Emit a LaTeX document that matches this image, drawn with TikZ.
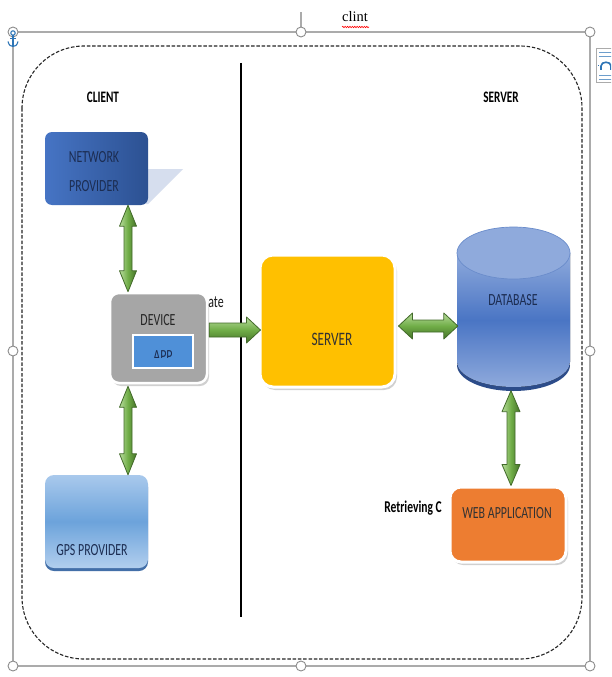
\documentclass[tikz,border=0pt]{standalone}
\usepackage{fontspec}
\setmainfont{Carlito}[FakeStretch=0.7]
\newfontfamily\titleserif{Liberation Serif}
\usetikzlibrary{calc,shadows,decorations.pathmorphing}

\definecolor{framegray}{HTML}{ABABAB}
\definecolor{handlegray}{HTML}{8C8C8C}
\definecolor{netlight}{HTML}{4674C4}
\definecolor{netdark}{HTML}{2C5192}
\definecolor{netshadow}{HTML}{D6DEEE}
\definecolor{navytext}{HTML}{1C2D52}
\definecolor{devgray}{HTML}{A6A6A6}
\definecolor{appblue}{HTML}{4F90D8}
\definecolor{srvyellow}{HTML}{FFC000}
\definecolor{webfill}{HTML}{ED7D31}
\definecolor{gpstop}{HTML}{A9C9EC}
\definecolor{gpsmid}{HTML}{6CA3DB}
\definecolor{gpsrim}{HTML}{2F609F}
\definecolor{dbtop}{HTML}{8FAADC}
\definecolor{dbmid}{HTML}{4A75C4}
\definecolor{dbrim}{HTML}{2C4C8A}
\definecolor{dbedge}{HTML}{6A8CCB}
\definecolor{arrowlight}{HTML}{B7DB9C}
\definecolor{arrowmid}{HTML}{70AD47}
\definecolor{arrowdark}{HTML}{457228}
\definecolor{arrowedge}{HTML}{426A2A}
\definecolor{anchorblue}{HTML}{2E75B6}

% double-headed block arrow: style, from, to, shaft half width, head half width, head length
\newcommand\greendouble[6]{%
  \coordinate (ba-h1) at ($(#2)!#6!(#3)$);
  \coordinate (ba-h2) at ($(#3)!#6!(#2)$);
  \path[#1] (#2) -- ($(ba-h1)!#5!-90:(#3)$) -- ($(ba-h1)!#4!-90:(#3)$)
    -- ($(ba-h2)!#4!90:(#2)$) -- ($(ba-h2)!#5!90:(#2)$) -- (#3)
    -- ($(ba-h2)!#5!-90:(#2)$) -- ($(ba-h2)!#4!-90:(#2)$)
    -- ($(ba-h1)!#4!90:(#3)$) -- ($(ba-h1)!#5!90:(#3)$) -- cycle;
}
% single-headed block arrow with a flat tail
\newcommand\greensingle[6]{%
  \coordinate (ba-h) at ($(#3)!#6!(#2)$);
  \path[#1] ($(#2)!#4!90:(#3)$) -- ($(ba-h)!#4!-90:(#2)$) -- ($(ba-h)!#5!-90:(#2)$)
    -- (#3) -- ($(ba-h)!#5!90:(#2)$) -- ($(ba-h)!#4!90:(#2)$)
    -- ($(#2)!#4!-90:(#3)$) -- cycle;
}

\tikzset{
  lbl/.style={font=\fontsize{17}{29}\selectfont, inner sep=0, align=center},
  hdr/.style={font=\bfseries\fontsize{16}{19}\selectfont, inner sep=0},
  handle/.style={fill=white, draw=handlegray, line width=0.9pt},
  softshadow/.style={drop shadow={shadow xshift=2pt, shadow yshift=-3pt, opacity=0.3, fill=black!60}},
  harrow/.style={top color=arrowlight, bottom color=arrowdark, middle color=arrowmid,
                 draw=arrowedge, line width=0.8pt, line join=round},
  varrow/.style={left color=arrowlight, right color=arrowdark, middle color=arrowmid,
                 draw=arrowedge, line width=0.8pt, line join=round},
}

\begin{document}
\begin{tikzpicture}[x=1pt,y=-1pt]
\useasboundingbox (0,0) rectangle (611,677);
\fill[white] (0,0) rectangle (611,677);

% selection frame of the drawing canvas
\draw[framegray, line width=1.3pt] (13,32) rectangle (590,666);
\draw[framegray, line width=1.3pt] (301,32) -- (301,12);
\foreach \hx/\hy in {13/32,301/32,590/32,13/351,590/351,13/666,301/666,590/666}
  \filldraw[handle] (\hx,\hy) circle[radius=5];

% caption with spell-check underline
\node[font=\titleserif\fontsize{14.5}{16}\selectfont, inner sep=0] (doctitle) at (355,17) {clint};
\draw[red, line width=0.6pt, decorate, decoration={snake, amplitude=0.7pt, segment length=2.4pt}]
  (342,27) -- (369,27);

% anchor marker over the top-left handle
\begin{scope}[anchorblue, line width=1.1pt]
  \draw (13,33) circle[radius=2.2];
  \draw (13,35.5) -- (13,46.5);
  \draw (10,38.5) -- (16,38.5);
  \draw (8,41.5) .. controls (9,45.5) and (11,46.5) .. (13,46.5) .. controls (15,46.5) and (17,45.5) .. (18,41.5);
\end{scope}

% layout-options button at the right edge
\begin{scope}
  \clip (592,40) rectangle (611,90);
  \filldraw[fill=white, draw=framegray, line width=0.8pt] (596,48) rectangle (622,82);
  \foreach \ly in {53,57,75,79} \draw[anchorblue!70, line width=1pt] (599,\ly) -- (618,\ly);
  \draw[anchorblue, line width=1.6pt] (601,70) -- (601,66) .. controls (601,61) and (611,61) .. (611,66) -- (611,70);
  \draw[anchorblue, line width=1pt] (598,66) -- (599,66) (613,66) -- (615,66);
\end{scope}

% dashed boundary and client/server divider
\draw[black!85, line width=1.1pt, dash pattern=on 3.5pt off 1.8pt, rounded corners=62pt]
  (22,46) rectangle (582,659);
\coordinate (divtop) at (241,63);
\coordinate (divbot) at (241,617);
\draw[line width=2pt] (divtop) -- (divbot);

\node[hdr] (clienthdr) at (103,97) {CLIENT};
\node[hdr] (serverhdr) at (501,97) {SERVER};

% network provider with its perspective shadow
\fill[netshadow] (146,169) -- (183,169) -- (148,204) -- (146,204) -- cycle;
\node[rounded corners=7pt, minimum width=103pt, minimum height=73pt, inner sep=0,
      left color=netlight, right color=netdark] (net) at (96.5,168.5) {};
\node[lbl, text=navytext] (nettext) at (94,171.5) {NETWORK\\PROVIDER};

% device with the app panel
\node[rounded corners=9pt, minimum width=97pt, minimum height=90pt, inner sep=0,
      fill=devgray, draw=white, line width=2.5pt, softshadow] (dev) at (158.5,338) {};
\node[lbl, text=black!85] (devtext) at (158,320) {DEVICE};
\node[minimum width=60pt, minimum height=32pt, inner sep=0, fill=appblue] (app) at (163,351.5) {};
\begin{scope}
  \clip (133,336) rectangle (193,357);
  \node[lbl, anchor=base, text=navytext] (apptext) at (163,361) {APP};
\end{scope}
\draw[white, line width=2pt] (app.north west) rectangle (app.south east);
\node[lbl, text=black!90] (ate) at (216,302) {ate};

% GPS provider
\node[rounded corners=9pt, minimum width=103pt, minimum height=93pt, inner sep=0,
      top color=gpstop, bottom color=gpstop!90!white, middle color=gpsmid,
      drop shadow={shadow xshift=0pt, shadow yshift=-3pt, opacity=0.9, fill=gpsrim}] (gps) at (96.5,521.5) {};
\node[lbl, text=navytext] (gpstext) at (92,550) {GPS PROVIDER};

% server
\node[rounded corners=13pt, minimum width=135pt, minimum height=132pt, inner sep=0,
      fill=srvyellow, draw=white, line width=3pt, softshadow] (srv) at (327.5,321) {};
\node[font=\fontsize{19}{22}\selectfont, inner sep=0, text=black!80] (srvtext) at (332,339) {SERVER};

% database cylinder
\node[minimum width=113pt, minimum height=161pt, inner sep=0] (db) at (513.5,308) {};
\fill[dbrim] (457,365) arc[start angle=180, end angle=0, x radius=56.5, y radius=26] -- cycle;
\fill[top color=dbtop, bottom color=dbtop, middle color=dbmid]
  (457,253) -- (457,362) arc[start angle=180, end angle=0, x radius=56.5, y radius=25]
  -- (570,253) -- cycle;
\filldraw[fill=dbtop, draw=dbedge, line width=0.7pt] (513.5,253) ellipse[x radius=56.5, y radius=26];
\node[lbl, text=navytext] (dbtext) at (513,300) {DATABASE};

% web application
\node[rounded corners=11pt, minimum width=116pt, minimum height=75pt, inner sep=0,
      fill=webfill, draw=white, line width=3pt, softshadow] (web) at (508,524.5) {};
\node[lbl, text=black!80] (webtext) at (507,513) {WEB APPLICATION};
\node[lbl, font=\bfseries\fontsize{16.5}{20}\selectfont, text=black] (retr) at (413,508) {Retrieving C};

% block arrows between the components
\coordinate (netdevA) at ($(net.south)+(31.5,0)$);
\coordinate (netdevB) at ($(dev.north)+(-30.5,0)$);
\coordinate (devgpsA) at ($(dev.south)+(-30.5,2)$);
\coordinate (devgpsB) at ($(gps.north)+(31.5,0)$);
\coordinate (devsrvA) at ($(dev.east)+(1,-8)$);
\coordinate (devsrvB) at ($(srv.west)+(2,9)$);
\coordinate (srvdbA) at ($(srv.east)+(2,5)$);
\coordinate (srvdbB) at ($(db.west)+(1,18)$);
\coordinate (dbwebA) at ($(db.south)+(-2.5,2)$);
\coordinate (dbwebB) at ($(web.north)+(3,0)$);

\greendouble{varrow}{netdevA}{netdevB}{4pt}{8.5pt}{21pt}
\greendouble{varrow}{devgpsA}{devgpsB}{4pt}{8.5pt}{21pt}
\greensingle{harrow}{devsrvA}{devsrvB}{7pt}{13pt}{14pt}
\greendouble{harrow}{srvdbA}{srvdbB}{6pt}{13pt}{14pt}
\greendouble{varrow}{dbwebA}{dbwebB}{4pt}{9pt}{21pt}
\end{tikzpicture}
\end{document}
